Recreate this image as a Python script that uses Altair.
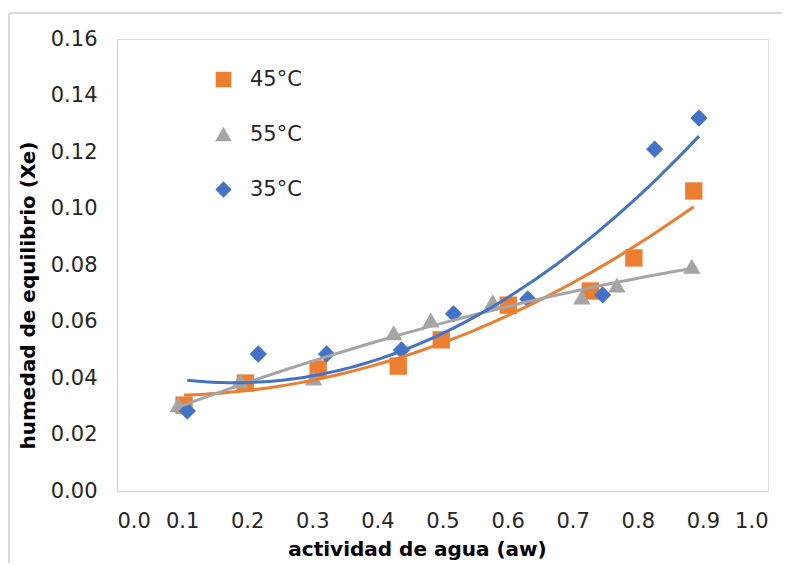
import altair as alt
import pandas as pd

series_names = ["45°C", "55°C", "35°C"]
colors = ["#ED7D31", "#A5A5A5", "#4472C4"]
shapes = ["square", "triangle-up", "diamond"]

aw_45 = [0.103, 0.197, 0.309, 0.432, 0.498, 0.601, 0.727, 0.794, 0.886]
xe_45 = [0.0304, 0.0382, 0.0432, 0.0442, 0.0535, 0.0658, 0.0708, 0.0825, 0.1062]

aw_55 = [0.094, 0.189, 0.302, 0.425, 0.482, 0.577, 0.714, 0.768, 0.883]
xe_55 = [0.0305, 0.0390, 0.0400, 0.0560, 0.0605, 0.0670, 0.0687, 0.0729, 0.0796]

aw_35 = [0.108, 0.217, 0.322, 0.437, 0.517, 0.631, 0.746, 0.826, 0.894]
xe_35 = [0.0283, 0.0485, 0.0485, 0.0499, 0.0627, 0.0680, 0.0694, 0.1210, 0.1320]

x_ticks = [0.0, 0.1, 0.2, 0.3, 0.4, 0.5, 0.6, 0.7, 0.8, 0.9, 1.0]
y_ticks = [0.00, 0.02, 0.04, 0.06, 0.08, 0.10, 0.12, 0.14, 0.16]

rows = []
for name, xs, ys in [("45°C", aw_45, xe_45), ("55°C", aw_55, xe_55), ("35°C", aw_35, xe_35)]:
    for a, b in zip(xs, ys):
        rows.append({"aw": a, "xe": b, "serie": name})
df = pd.DataFrame(rows)

FONT = "DejaVu Sans"
BORDER = "#D9D9D9"

color_scale = alt.Scale(domain=series_names, range=colors)
shape_scale = alt.Scale(domain=series_names, range=shapes)

x_enc = alt.X("aw:Q", scale=alt.Scale(domain=[0, 1], nice=False),
              axis=alt.Axis(values=x_ticks, format=".1f", title="actividad de agua (aw)",
                            grid=False, ticks=False, domainColor=BORDER, domainWidth=1.5,
                            labelFontSize=21, labelPadding=19, labelColor="#262626",
                            titleFontSize=20, titleFontWeight="bold", titleColor="#000000",
                            titleX=300, titleY=48, titleBaseline="top",
                            labelFont=FONT, titleFont=FONT))
y_enc = alt.Y("xe:Q", scale=alt.Scale(domain=[0, 0.16], nice=False),
              axis=alt.Axis(values=y_ticks, format=".2f", title="humedad de equilibrio (Xe)",
                            grid=False, ticks=False, domainColor=BORDER, domainWidth=1.5,
                            labelFontSize=21, labelPadding=20, labelColor="#262626",
                            titleFontSize=20, titleFontWeight="bold", titleColor="#000000",
                            titleX=-79, titleY=256, titleBaseline="bottom",
                            labelFont=FONT, titleFont=FONT))

points = alt.Chart(df).mark_point(filled=True, opacity=1, size=300).encode(
    x=x_enc,
    y=y_enc,
    color=alt.Color("serie:N", scale=color_scale,
                    legend=alt.Legend(title=None, orient="none", legendX=96, legendY=30,
                                      symbolSize=200, labelFontSize=21, labelFont=FONT,
                                      labelColor="#262626", rowPadding=33, labelOffset=16,
                                      padding=0, symbolOpacity=1)),
    shape=alt.Shape("serie:N", scale=shape_scale, legend=None),
)

lines = alt.Chart(df).transform_regression(
    "aw", "xe", groupby=["serie"], method="poly", order=2
).mark_line(strokeWidth=3).encode(
    x="aw:Q",
    y="xe:Q",
    color=alt.Color("serie:N", scale=color_scale, legend=None),
)

frame_top = alt.Chart(df).mark_rule(color=BORDER, strokeWidth=1.5).encode(
    x=alt.value(-108), x2=alt.value(680), y=alt.value(-26)
)
frame_left = alt.Chart(df).mark_rule(color=BORDER, strokeWidth=1.5).encode(
    x=alt.value(-108), y=alt.value(-26), y2=alt.value(580)
)

chart = alt.layer(frame_top, frame_left, points, lines).properties(
    width=651, height=452,
    autosize=alt.AutoSizeParams(type="none"),
    padding={"left": 109, "top": 31, "right": 14, "bottom": 72},
).configure_view(stroke=None).configure(background="white")

chart.save("out.html", embed_options={"renderer": "svg", "actions": False})
